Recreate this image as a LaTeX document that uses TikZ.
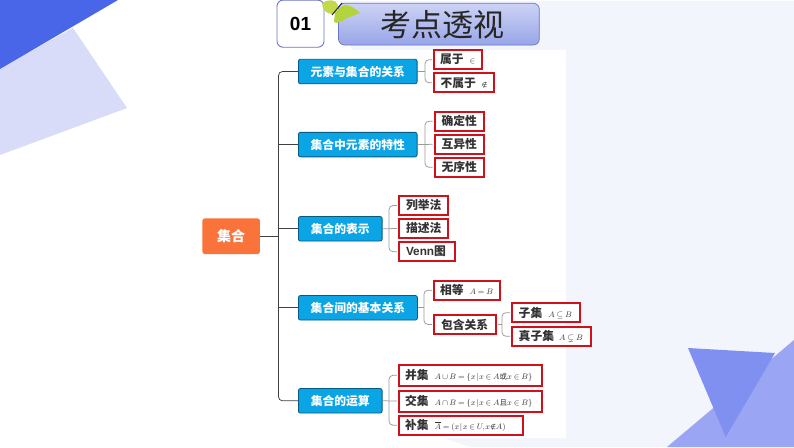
\documentclass[tikz,border=0pt]{standalone}
\usepackage{fontspec}
\usepackage{amsmath,amssymb}
\setmainfont{Liberation Sans}
\newfontfamily\cjk{Noto Sans CJK SC}
\newfontfamily\symf{DejaVu Sans}
\definecolor{cyanbox}{HTML}{0BA5E6}
\definecolor{redb}{HTML}{D0101A}
\definecolor{orangeb}{HTML}{F9733A}
\definecolor{bgb}{HTML}{F3F5FD}
\definecolor{polylight}{HTML}{D9DCF8}
\definecolor{polydark}{HTML}{4A66E8}
\definecolor{polyb}{HTML}{9AA5F3}
\definecolor{polyc}{HTML}{7F90F0}
\definecolor{framec}{HTML}{6A76C8}
\definecolor{titletop}{HTML}{CDD3F5}
\definecolor{titlebot}{HTML}{98A5E8}
\definecolor{wingA}{HTML}{C4D94A}
\definecolor{wingB}{HTML}{B5D33C}
\tikzset{
  x=1pt,y=-1pt,
  main/.style={draw=cyanbox!55!black,line width=.8pt,fill=cyanbox,rounded corners=2pt,text=white,font=\cjk\bfseries\fontsize{11.8}{12}\selectfont,inner sep=0pt,anchor=west,minimum height=24.5pt},
  leaf/.style={draw=redb,line width=2pt,fill=white,text=black!80,font=\cjk\bfseries\fontsize{11.8}{12}\selectfont,inner sep=0pt,anchor=west,minimum height=19pt,align=left},
  con/.style={draw=black!75,line width=.75pt,rounded corners=4pt},
  sub/.style={draw=black!40,line width=.75pt,rounded corners=4pt},
}
\newcommand{\mth}[1]{{\fontsize{7.8}{8}\selectfont\thickmuskip=4mu\medmuskip=3mu\thinmuskip=1mu$#1$}}
\newcommand{\zh}[1]{\mbox{\cjk\mdseries\fontsize{7.5}{8}\selectfont #1}}
\newcommand{\nel}{\mbox{\symf\mdseries\fontsize{6.5}{7}\selectfont ∉}}
\begin{document}
\begin{tikzpicture}
\useasboundingbox (0,0) rectangle (794,447);
\fill[white] (0,0) rectangle (794,447);
\fill[bgb] (340,1) -- (794,1) -- (794,447) -- (470,447) -- (444,438) -- cycle;
\fill[white] (278,50) rectangle (566,438);
% corners
\fill[polylight] (0,68) -- (73,28) -- (127,108) -- (0,155) -- cycle;
\fill[polydark] (0,0) -- (118,0) -- (0,69) -- cycle;
\fill[polyb] (667,447) -- (794,340) -- (794,447) -- cycle;
\fill[polyc] (688,348) -- (775,353) -- (725.7,437) -- cycle;
% title
\node[draw=framec,line width=.9pt,fill=white,rounded corners=6pt,minimum width=47pt,minimum height=47pt,inner sep=0pt] (num) at (300.5,23.7) {\bfseries\fontsize{19}{19}\selectfont 01};
\shade[top color=titletop,bottom color=titlebot,draw=framec,line width=.7pt,rounded corners=6pt] (338.5,3.3) rectangle (539.3,45);
\node[font=\cjk\fontsize{31}{31}\selectfont,text=black!85,inner sep=0pt] (title) at (442,25) {考点透视};
% butterfly
\fill[wingA] (322,3) .. controls (328,-1) and (336,-1) .. (338,5) .. controls (338,10) and (335,14) .. (332,14) .. controls (327,14) and (322,10) .. (322,3) -- cycle;
\fill[wingB] (335,13) .. controls (338,9) and (342,5) .. (346,5) .. controls (352,6) and (357,10) .. (360,13) .. controls (354,16) and (348,17) .. (345,19) .. controls (342,22) and (337,24) .. (334,22) -- cycle;
\draw[black!85,line width=1pt] (332,15) -- (342,3);
% connectors' nodes
\node[fill=orangeb,rounded corners=2.5pt,text=white,font=\cjk\bfseries\fontsize{14}{14}\selectfont,minimum width=57.5pt,minimum height=35.7pt,inner sep=0pt] (root) at (231.2,236.2) {集合};
\node[main,minimum width=118.7pt] (m1) at (298,71.5) {元素与集合的关系};
\node[main,minimum width=118.7pt] (m2) at (298,144.6) {集合中元素的特性};
\node[main,minimum width=83.7pt] (m3) at (298,228.8) {集合的表示};
\node[main,minimum width=119pt] (m4) at (298,307.8) {集合间的基本关系};
\node[main,minimum width=83.7pt] (m5) at (298,400.8) {集合的运算};
% leaves
\node[leaf,text width=48pt] (a1) at (433,59.7) {\hspace{6pt}属于\hspace{6pt}\mth{\in}};
\node[leaf,text width=59.5pt] (a2) at (433,82.8) {\hspace{6.5pt}不属于\hspace{6pt}\mth{\nel}};
\node[leaf,text width=49pt] (b1) at (433.5,121.2) {\hspace{7pt}确定性};
\node[leaf,text width=49pt] (b2) at (433.5,144.3) {\hspace{7pt}互异性};
\node[leaf,text width=49pt] (b3) at (433.5,167.3) {\hspace{7pt}无序性};
\node[leaf,text width=49.4pt] (c1) at (397.8,205.5) {\hspace{7.2pt}列举法};
\node[leaf,text width=49.4pt] (c2) at (397.8,228.5) {\hspace{7.2pt}描述法};
\node[leaf,text width=56pt] (c3) at (397.8,251.7) {\hspace{7.2pt}{\fontspec{Liberation Sans}\bfseries Venn}图};
\node[leaf,text width=65.6pt] (d1) at (433.2,290.2) {\hspace{5.8pt}相等\hspace{6pt}\mth{A=B}};
\node[leaf,text width=61.3pt] (d2) at (433.2,324.5) {\hspace{6.8pt}包含关系};
\node[leaf,text width=67.3pt] (e1) at (511.2,312.7) {\hspace{6.5pt}子集\hspace{6pt}\mth{A\subseteq B}};
\node[leaf,text width=79pt] (e2) at (511.2,336.3) {\hspace{6.5pt}真子集\hspace{5pt}\mth{A\subsetneq B}};
\node[leaf,text width=143.4pt,minimum height=21pt] (f1) at (397.8,375.3) {\hspace{6.2pt}并集\hspace{6pt}\mth{A\cup B=\{x\,|\,x\in A\zh{或}x\in B\}}};
\node[leaf,text width=143.4pt,minimum height=21pt] (f2) at (397.8,401) {\hspace{6.2pt}交集\hspace{6pt}\mth{A\cap B=\{x\,|\,x\in A\zh{且}x\in B\}}};
\node[leaf,text width=124.4pt] (f3) at (397.8,425.2) {\hspace{6.2pt}补集\hspace{6pt}\mth{\overline{A}=(x\,|\,x\in U,x\nel A)}};
% connectors
\coordinate (tr) at (278.5,236.2);
\draw[con] (root.east) -- (tr);
\draw[con] (m1.west) -- (278.5,71.5) -- (278.5,400.8) -- (m5.west);
\draw[con] (m2.west) -- (278.5,144.6);
\draw[con] (m3.west) -- (278.5,228.8);
\draw[con] (m4.west) -- (278.5,307.8);
\draw[sub] (m1.east) -- (425,71.5);
\draw[sub] ([xshift=-1pt]a1.west) -- (425,59.7) -- (425,82.8) -- ([xshift=-1pt]a2.west);
\draw[sub] (m2.east) -- ([xshift=-1pt]b2.west);
\draw[sub] ([xshift=-1pt]b1.west) -- (425,121.2) -- (425,167.3) -- ([xshift=-1pt]b3.west);
\draw[sub] (m3.east) -- ([xshift=-1pt]c2.west);
\draw[sub] ([xshift=-1pt]c1.west) -- (389,205.5) -- (389,251.7) -- ([xshift=-1pt]c3.west);
\draw[sub] (m4.east) -- (424,307.8);
\draw[sub] ([xshift=-1pt]d1.west) -- (424,290.2) -- (424,324.5) -- ([xshift=-1pt]d2.west);
\draw[sub] ([xshift=1pt]d2.east) -- (502,324.5);
\draw[sub] ([xshift=-1pt]e1.west) -- (502,312.7) -- (502,336.3) -- ([xshift=-1pt]e2.west);
\draw[sub] (m5.east) -- ([xshift=-1pt]f2.west);
\draw[sub] ([xshift=-1pt]f1.west) -- (389,375.3) -- (389,425.2) -- ([xshift=-1pt]f3.west);
\end{tikzpicture}
\end{document}
